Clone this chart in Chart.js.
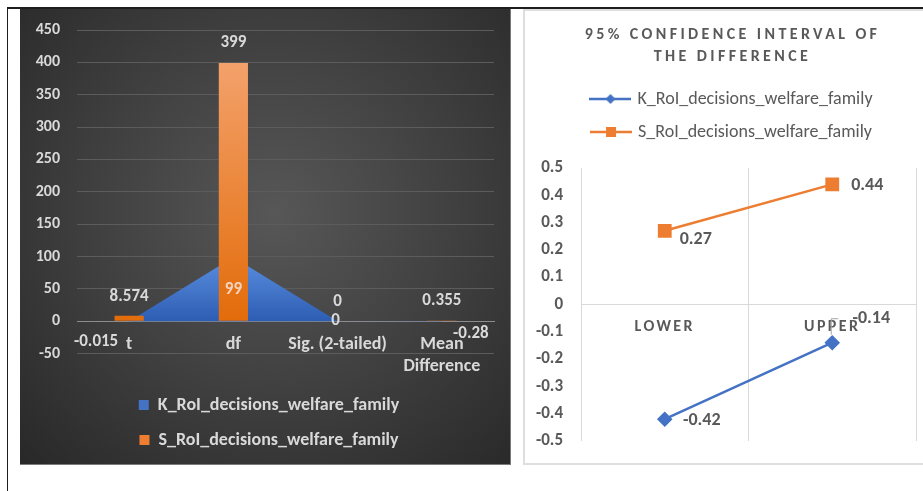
<!DOCTYPE html>
<html>
<head>
<meta charset="utf-8">
<script src="https://cdn.jsdelivr.net/npm/chart.js@4.4.0/dist/chart.umd.min.js"></script>
<style>
  html, body { margin: 0; padding: 0; background: #fff; overflow: hidden; }
  #frame { position: absolute; left: 7px; top: 7px; width: 940px; height: 500px;
           border-top: 2px solid #1e1e1e; border-left: 1px solid #1e1e1e; }
  #darkPanel { position: absolute; left: 20px; top: 9px; width: 491px; height: 456px;
               background: radial-gradient(ellipse at 52% 45%, #575757 0%, #404040 50%, #282828 100%);
               border-right: 1px solid #7a7a7a; border-bottom: 1px solid #7a7a7a; box-sizing: border-box; }
  #lightPanel { position: absolute; left: 523px; top: 9px; width: 420px; height: 456px;
                border: 2px solid #dedede; box-sizing: border-box; }
  #tTestCanvas { position: absolute; left: 20px; top: 9px; }
  #ciCanvas { position: absolute; left: 525px; top: 10px; }
</style>
</head>
<body>
<div id="frame"></div>
<div id="darkPanel"></div>
<div id="lightPanel"></div>
<canvas id="tTestCanvas" width="491" height="456"></canvas>
<canvas id="ciCanvas" width="410" height="452"></canvas>
<script>
// ---- data ----
var seriesNames = ["K_RoI_decisions_welfare_family", "S_RoI_decisions_welfare_family"];

var testLabels = ["t", "df", "Sig. (2-tailed)", ["Mean", "Difference"]];
var kTest = [-0.015, 99, 0, -0.28];
var sTest = [8.574, 399, 0, 0.355];
var testTicks = { min: -50, max: 450, step: 50 };

var ciLabels = ["LOWER", "UPPER"];
var kCi = [-0.42, -0.14];
var sCi = [0.27, 0.44];
var ciTicks = { min: -0.5, max: 0.5, step: 0.1 };

var blue = "#4472C4", orange = "#ED7D31";
var fontFamily = "Carlito, Lato, sans-serif";

// value labels drawn next to each point, offsets in px [dx, dy, leader?]
var valueLabels = {
  id: "valueLabels",
  afterDatasetsDraw: function (chart, args, opts) {
    var ctx = chart.ctx;
    ctx.save();
    ctx.font = opts.font;
    ctx.textAlign = "center";
    ctx.textBaseline = "middle";
    chart.data.datasets.forEach(function (ds, i) {
      var meta = chart.getDatasetMeta(i);
      meta.data.forEach(function (el, j) {
        var off = opts.offsets[i][j];
        var x = el.x + off[0], y = el.y + off[1];
        if (off[2]) {
          ctx.strokeStyle = "#a6a6a6";
          ctx.lineWidth = 1;
          ctx.beginPath();
          ctx.moveTo(el.x - 1, el.y - 8);
          ctx.lineTo(el.x - 1, y);
          ctx.lineTo(el.x + 6, y);
          ctx.stroke();
        }
        ctx.fillStyle = (opts.colors && opts.colors[i] && opts.colors[i][j]) || opts.color;
        ctx.fillText(String(ds.data[j]), x, y);
      });
    });
    ctx.restore();
  }
};

// wider letter spacing for the title and x labels (Excel look)
var spacing = {
  id: "spacing",
  afterLayout: function (chart, args, opts) {
    var ctx = chart.ctx;
    var tb = chart.titleBlock;
    if (opts.title && tb && !tb._spaced) {
      var d = tb.draw;
      tb.draw = function (a) { ctx.letterSpacing = opts.title; d.call(this, a); ctx.letterSpacing = "0px"; };
      tb._spaced = true;
    }
    var xs = chart.scales.x;
    if (opts.x && xs && !xs._spaced) {
      var dl = xs.drawLabels;
      xs.drawLabels = function (a) { ctx.letterSpacing = opts.x; dl.call(this, a); ctx.letterSpacing = "0px"; };
      xs._spaced = true;
    }
  }
};

// extra room under the legend
var legendGap = {
  id: "legendGap",
  beforeLayout: function (chart, args, opts) {
    var lg = chart.legend;
    if (lg && !lg._gap) {
      var f = lg.fit;
      lg.fit = function () { f.call(this); this.height += opts.size || 0; };
      lg._gap = true;
    }
  }
};

// nudge legend / title sideways so they centre on the whole panel
var boxShift = {
  id: "boxShift",
  afterLayout: function (chart, args, opts) {
    [chart.legend, chart.titleBlock].forEach(function (b) {
      if (b) { b.left += opts.dx; b.right += opts.dx; }
    });
  }
};

function vGradient(chart, fromValue, c1, c2, fallback) {
  var y = chart.scales.y;
  if (!chart.chartArea || !y) return fallback;
  var top = y.getPixelForValue(fromValue), bottom = y.getPixelForValue(0);
  if (!isFinite(top) || !isFinite(bottom) || top === bottom) return fallback;
  var g = chart.ctx.createLinearGradient(0, top, 0, bottom);
  g.addColorStop(0, c1);
  g.addColorStop(1, c2);
  return g;
}

// ---- left chart: t-test results ----
new Chart("tTestCanvas", {
  type: "bar",
  data: {
    labels: testLabels,
    datasets: [
      {
        type: "line",
        label: seriesNames[0],
        data: kTest,
        fill: "origin",
        borderWidth: 0,
        pointRadius: 0,
        tension: 0,
        order: 2,
        backgroundColor: function (c) {
          return vGradient(c.chart, Math.max.apply(null, kTest), "#5b8fe0", "#2d5db3", blue);
        }
      },
      {
        label: seriesNames[1],
        data: sTest,
        order: 1,
        barPercentage: 0.28,
        categoryPercentage: 1,
        backgroundColor: function (c) {
          return vGradient(c.chart, testTicks.max, "#f5a877", "#e36c0a", orange);
        }
      }
    ]
  },
  options: {
    responsive: false,
    animation: false,
    layout: { padding: { top: 21, left: 0, right: 17, bottom: 6 } },
    scales: {
      x: {
        position: { y: 0 },
        offset: true,
        grid: { color: "rgba(0,0,0,0)", tickColor: "rgba(0,0,0,0)", drawTicks: true, tickLength: 12 },
        border: { color: "#8c8c8c" },
        ticks: { color: "#d9d9d9", font: { family: fontFamily, size: 18, weight: "bold", lineHeight: 22 / 18 }, padding: 0, maxRotation: 0, autoSkip: false }
      },
      y: {
        min: testTicks.min,
        max: testTicks.max,
        afterFit: function (s) { s.width = 57; },
        grid: { color: "#5c5c5c", tickColor: "rgba(0,0,0,0)", drawTicks: true, tickLength: 17 },
        border: { display: false },
        ticks: { stepSize: testTicks.step, color: "#d9d9d9", font: { family: fontFamily, size: 16, weight: "bold" }, padding: 0 }
      }
    },
    plugins: {
      tooltip: { enabled: false },
      legend: {
        position: "bottom",
        title: { display: true, text: "", padding: { top: 0, bottom: 11 }, font: { size: 12 } },
        labels: {
          color: "#d9d9d9",
          font: { family: fontFamily, size: 18, weight: "bold" },
          boxWidth: 10,
          boxHeight: 10,
          padding: 17,
          generateLabels: function () {
            return [
              { text: seriesNames[0], fillStyle: "#4472C4", strokeStyle: "rgba(0,0,0,0)", lineWidth: 0, fontColor: "#d9d9d9", datasetIndex: 0 },
              { text: seriesNames[1], fillStyle: "#ED7D31", strokeStyle: "rgba(0,0,0,0)", lineWidth: 0, fontColor: "#d9d9d9", datasetIndex: 1 }
            ];
          }
        }
      },
      boxShift: { dx: 12 },
      valueLabels: {
        font: "bold 17px " + fontFamily,
        color: "#d9d9d9",
        colors: [[null, "#f6d2bb", null, null]],
        offsets: [
          [[-33, 21], [0, 33], [-2, 0], [29, 12]],
          [[0, -19], [0, -20], [0, -19], [0, -20]]
        ]
      }
    }
  },
  plugins: [valueLabels, boxShift]
});

// ---- right chart: 95% confidence interval ----
function legendIcon(color, style) {
  var c = document.createElement("canvas");
  c.width = 42; c.height = 14;
  var g = c.getContext("2d");
  g.strokeStyle = color;
  g.fillStyle = color;
  g.lineWidth = 2.5;
  g.beginPath(); g.moveTo(0, 7); g.lineTo(42, 7); g.stroke();
  if (style === "diamond") {
    g.beginPath(); g.moveTo(21, 2); g.lineTo(26, 7); g.lineTo(21, 12); g.lineTo(16, 7); g.closePath(); g.fill();
  } else {
    g.fillRect(16, 2, 10, 10);
  }
  return c;
}

new Chart("ciCanvas", {
  type: "line",
  data: {
    labels: ciLabels,
    datasets: [
      {
        label: seriesNames[0],
        data: kCi,
        borderColor: blue,
        backgroundColor: blue,
        borderWidth: 2.5,
        pointStyle: "rectRot",
        pointRadius: 6,
        tension: 0
      },
      {
        label: seriesNames[1],
        data: sCi,
        borderColor: orange,
        backgroundColor: orange,
        borderWidth: 2.5,
        pointStyle: "rect",
        pointRadius: 8,
        tension: 0
      }
    ]
  },
  options: {
    responsive: false,
    animation: false,
    layout: { padding: { top: 0, left: 0, right: 19, bottom: 21 } },
    scales: {
      x: {
        position: { y: 0 },
        offset: true,
        grid: { color: "#d9d9d9", tickColor: "rgba(0,0,0,0)", drawTicks: true, tickLength: 13, offset: true },
        border: { color: "#d9d9d9" },
        ticks: { color: "#595959", font: { family: fontFamily, size: 16, weight: "bold" }, padding: 0 }
      },
      y: {
        min: ciTicks.min,
        max: ciTicks.max,
        afterFit: function (s) { s.width = 56; },
        grid: { color: "rgba(0,0,0,0)", tickColor: "rgba(0,0,0,0)", drawTicks: true, tickLength: 18 },
        border: { display: false },
        ticks: { stepSize: ciTicks.step, color: "#595959", font: { family: fontFamily, size: 17, weight: "bold" }, padding: 0 }
      }
    },
    plugins: {
      tooltip: { enabled: false },
      title: {
        display: true,
        text: ["95% CONFIDENCE INTERVAL OF", "THE DIFFERENCE"],
        color: "#595959",
        font: { family: fontFamily, size: 16, weight: "bold", lineHeight: 22 / 16 },
        padding: { top: 14, bottom: 7 }
      },
      legend: {
        labels: {
          color: "#595959",
          font: { family: fontFamily, size: 18 },
          usePointStyle: true,
          pointStyleWidth: 36,
          padding: 15,
          generateLabels: function () {
            return [
              { text: seriesNames[0], pointStyle: legendIcon(blue, "diamond"), fontColor: "#595959", lineWidth: 0, datasetIndex: 0 },
              { text: seriesNames[1], pointStyle: legendIcon(orange, "square"), fontColor: "#595959", lineWidth: 0, datasetIndex: 1 }
            ];
          }
        }
      },
      legendGap: { size: 17 },
      boxShift: { dx: 12 },
      spacing: { title: "3.4px", x: "2.4px" },
      valueLabels: {
        font: "bold 18px " + fontFamily,
        color: "#595959",
        offsets: [
          [[37, 1], [39, -24, true]],
          [[31, 9], [35, 1]]
        ]
      }
    }
  },
  plugins: [valueLabels, spacing, legendGap, boxShift]
});
</script>
</body>
</html>
